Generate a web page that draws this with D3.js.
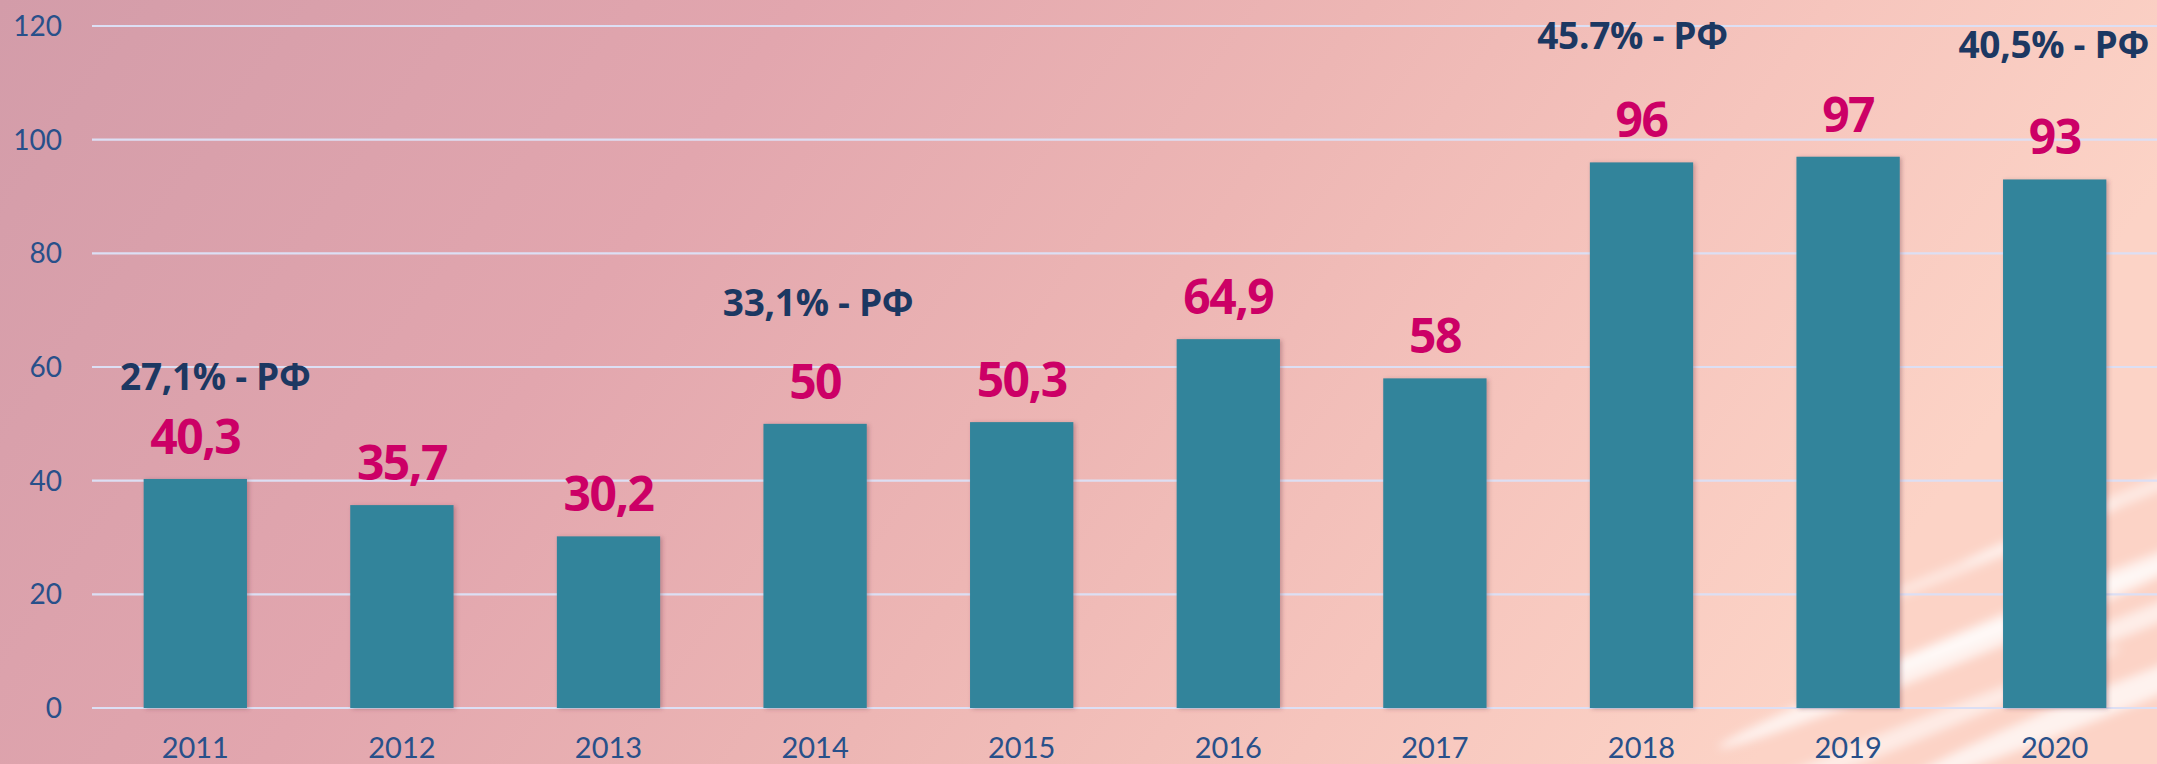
<!DOCTYPE html>
<html>
<head>
<meta charset="utf-8">
<script src="https://cdn.jsdelivr.net/npm/d3@7"></script>
<style>
  body { margin: 0; overflow: hidden; }
  text { font-family: Lato, "Open Sans", sans-serif; }
  .bold { font-family: "Open Sans", Lato, sans-serif; font-weight: bold; }
</style>
</head>
<body>
<div id="chart"></div>
<script>
// data
const years = ["2011", "2012", "2013", "2014", "2015", "2016", "2017", "2018", "2019", "2020"];
const values = [40.3, 35.7, 30.2, 50, 50.3, 64.9, 58, 96, 97, 93];
const valueLabels = ["40,3", "35,7", "30,2", "50", "50,3", "64,9", "58", "96", "97", "93"];
const yTicks = [0, 20, 40, 60, 80, 100, 120];

// "РФ" share notes, level is in axis units
const noteYears = ["2011", "2014", "2018", "2020"];
const noteLabels = ["27,1% - РФ", "33,1% - РФ", "45.7% - РФ", "40,5% - РФ"];
const noteLevels = [56, 69, 116, 114.3];

const width = 2157, height = 764;
const margin = { top: 26, right: 0, bottom: 56, left: 92 };

const svg = d3.select("#chart").append("svg")
  .attr("width", width)
  .attr("height", height);

const defs = svg.append("defs");

// background gradient, dusty pink to peach
const bg = defs.append("linearGradient")
  .attr("id", "bg")
  .attr("x1", "0").attr("y1", "0")
  .attr("x2", "1").attr("y2", "0.25");
[["0", "#d39ca9"], ["0.35", "#e2a6ae"], ["0.6", "#edb6b4"], ["0.8", "#f6c5bd"], ["1", "#fcd3c6"]]
  .forEach(([o, c]) => bg.append("stop").attr("offset", o).attr("stop-color", c));

const blur = defs.append("filter").attr("id", "blur")
  .attr("x", "-50%").attr("y", "-50%").attr("width", "200%").attr("height", "200%");
blur.append("feGaussianBlur").attr("stdDeviation", 5);

const shadow = defs.append("filter").attr("id", "shadow")
  .attr("x", "-10%").attr("y", "-10%").attr("width", "130%").attr("height", "130%");
shadow.append("feDropShadow")
  .attr("dx", 2).attr("dy", 1)
  .attr("stdDeviation", 2)
  .attr("flood-color", "#6a3040")
  .attr("flood-opacity", 0.35);

svg.append("rect")
  .attr("width", width)
  .attr("height", height)
  .attr("fill", "url(#bg)");

// soft light streaks in the lower right corner
const streaks = svg.append("g")
  .attr("filter", "url(#blur)")
  .attr("fill", "#ffffff");
[[1960, 650, 260, 12, 0.7], [2060, 600, 240, 9, 0.65], [2120, 500, 170, 7, 0.5], [1880, 745, 260, 10, 0.55],
 [2110, 700, 220, 14, 0.7], [1980, 560, 150, 6, 0.45], [2140, 620, 120, 10, 0.6]]
  .forEach(([cx, cy, rx, ry, op]) => {
    streaks.append("ellipse")
      .attr("cx", cx).attr("cy", cy)
      .attr("rx", rx).attr("ry", ry)
      .attr("opacity", op)
      .attr("transform", `rotate(-22,${cx},${cy})`);
  });

const x = d3.scaleBand()
  .domain(years)
  .range([margin.left, width - margin.right + 1])
  .paddingInner(0.5)
  .paddingOuter(0.25);

const y = d3.scaleLinear()
  .domain([0, 120])
  .range([height - margin.bottom, margin.top]);

// gridlines
svg.append("g")
  .selectAll("line")
  .data(yTicks)
  .enter().append("line")
  .attr("x1", margin.left)
  .attr("x2", width)
  .attr("y1", d => y(d))
  .attr("y2", d => y(d))
  .attr("stroke", "#dcdff4")
  .attr("stroke-width", 2.2);

// y tick labels
svg.append("g")
  .selectAll("text")
  .data(yTicks)
  .enter().append("text")
  .attr("x", 62)
  .attr("y", d => y(d))
  .attr("dy", "0.36em")
  .attr("text-anchor", "end")
  .attr("font-size", 28)
  .attr("fill", "#28508a")
  .text(d => d);

// bars
svg.append("g")
  .selectAll("rect")
  .data(values)
  .enter().append("rect")
  .attr("x", (d, i) => x(years[i]))
  .attr("y", d => y(d))
  .attr("width", x.bandwidth())
  .attr("height", d => y(0) - y(d))
  .attr("fill", "#31849b")
  .attr("filter", "url(#shadow)");

// x labels
svg.append("g")
  .selectAll("text")
  .data(years)
  .enter().append("text")
  .attr("x", d => x(d) + x.bandwidth() / 2)
  .attr("y", 758)
  .attr("text-anchor", "middle")
  .attr("font-size", 29)
  .attr("fill", "#28508a")
  .text(d => d);

// value labels above bars
svg.append("g")
  .selectAll("text")
  .data(values)
  .enter().append("text")
  .attr("class", "bold")
  .attr("x", (d, i) => x(years[i]) + x.bandwidth() / 2)
  .attr("y", d => y(d) - 25)
  .attr("text-anchor", "middle")
  .attr("font-size", 48)
  .attr("fill", "#cc0066")
  .attr("letter-spacing", -1.5)
  .text((d, i) => valueLabels[i]);

// notes, nudged a little like the original text boxes
const noteDx = [20, 3, -9, -1];
svg.append("g")
  .selectAll("text")
  .data(noteLabels)
  .enter().append("text")
  .attr("class", "bold")
  .attr("x", (d, i) => x(noteYears[i]) + x.bandwidth() / 2 + noteDx[i])
  .attr("y", (d, i) => y(noteLevels[i]))
  .attr("text-anchor", "middle")
  .attr("font-size", 37)
  .attr("fill", "#1c3862")
  .attr("letter-spacing", -0.3)
  .text(d => d);
</script>
</body>
</html>
